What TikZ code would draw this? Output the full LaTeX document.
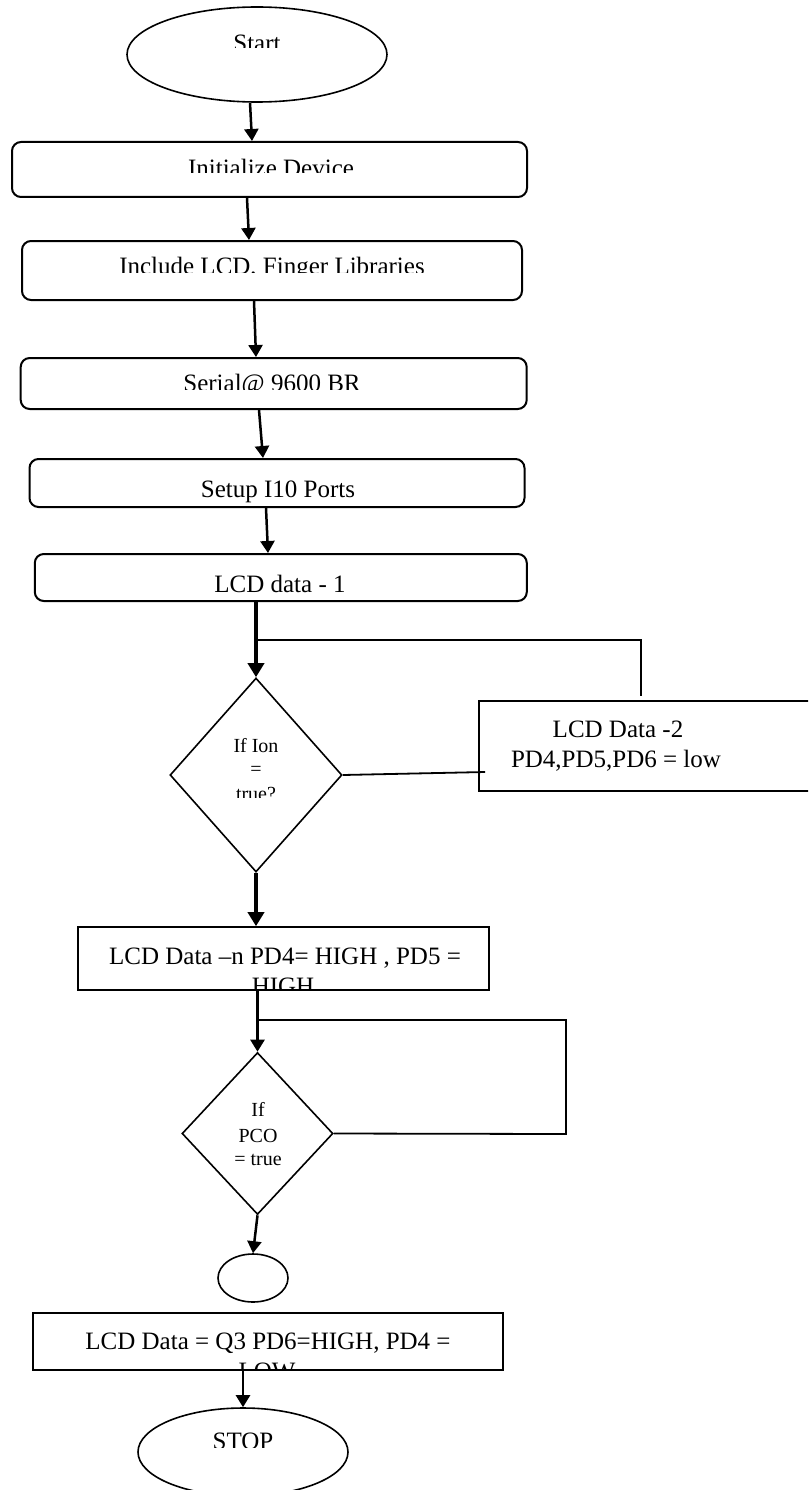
\documentclass[tikz,border=0pt]{standalone}
\usepackage{fontspec}
\setmainfont{Liberation Serif}
\usetikzlibrary{shapes.geometric,arrows.meta,calc}

\tikzset{
  procbox/.style={draw,line width=2pt,rounded corners=9pt,inner sep=0pt},
  databox/.style={draw,line width=1.6pt,inner sep=0pt},
  term/.style={draw,ellipse,line width=1.6pt,inner sep=0pt},
  decision/.style={draw,diamond,line width=1.6pt,inner sep=0pt},
  lbl/.style={anchor=base,inner sep=0pt,font=\fontsize{25}{30}\selectfont},
  smalllbl/.style={anchor=base,inner sep=0pt,font=\fontsize{20}{24}\selectfont},
  arr/.style={line width=2.5pt,-{Triangle[length=12pt,width=14pt]}},
  thickarr/.style={line width=3.5pt,-{Triangle[length=14pt,width=16pt]}},
  loopline/.style={line width=1.8pt}
}
% label whose lower part is cut away above height #5
\newcommand{\cutlabel}[6]{%
  \begin{scope}
    \clip (0,#5) rectangle (808,0);
    \node[#1] (#2) at (#3,#4) {#6};
  \end{scope}}

\begin{document}
\begin{tikzpicture}[x=1pt,y=-1pt]
  \clip (0,0) rectangle (808,1490);
  \fill[white] (0,0) rectangle (808,1490);

  % shapes
  \node[term,minimum width=260pt,minimum height=95pt] (start) at (257,54.5) {};
  \node[procbox,minimum width=515pt,minimum height=55pt] (init) at (269.5,169.5) {};
  \node[procbox,minimum width=500pt,minimum height=59pt] (incl) at (272,270.5) {};
  \node[procbox,minimum width=506pt,minimum height=51pt] (serial) at (273.7,383.5) {};
  \node[procbox,minimum width=495pt,minimum height=48pt] (setup) at (277,483) {};
  \node[procbox,minimum width=492pt,minimum height=47pt] (lcdone) at (280.8,577.5) {};
  \node[decision,minimum width=172pt,minimum height=194pt] (ion) at (256,775) {};
  \node[databox,minimum width=333pt,minimum height=90pt] (lcdtwo) at (645.5,746) {};
  \node[databox,minimum width=411pt,minimum height=63pt] (lcdn) at (283.5,958.5) {};
  \node[decision,minimum width=151pt,minimum height=162pt] (pco) at (257.5,1133.5) {};
  \node[term,minimum width=70pt,minimum height=48pt] (join) at (253,1278) {};
  \node[databox,minimum width=470pt,minimum height=57pt] (lcdq) at (268,1341.5) {};
  \node[term,minimum width=210pt,minimum height=88pt] (stop) at (243,1452) {};

  % texts
  \cutlabel{lbl}{tstart}{257}{51.5}{48}{Start}
  \cutlabel{lbl}{tinit}{271}{176.5}{173}{Initialize Device}
  \cutlabel{lbl}{tincl}{272}{274.5}{272}{Include LCD, Finger Libraries}
  \cutlabel{lbl}{tserial}{272}{391.5}{389}{Serial@ 9600 BR}
  \node[lbl] (tsetup) at (278,497) {Setup I10 Ports};
  \node[lbl] (tlcdone) at (280,592) {LCD data - 1};
  \node[smalllbl] (tion) at (256,752.5) {If Ion};
  \node[smalllbl] (teq) at (256,775.5) {=};
  \cutlabel{smalllbl}{ttrue}{256}{800}{797}{true?}
  \node[lbl] (tlcdtwo) at (618,737) {LCD Data -2};
  \node[lbl] (tpins) at (616,767) {PD4,PD5,PD6 = low};
  \node[lbl] (tlcdn) at (285,964) {LCD Data –n PD4= HIGH , PD5 =};
  \cutlabel{lbl}{thigh}{283}{994}{990}{HIGH}
  \node[smalllbl] (tif) at (258,1116.5) {If};
  \node[smalllbl] (tpco) at (258,1142.5) {PCO};
  \node[smalllbl] (ttrue2) at (258,1165.5) {= true};
  \node[lbl] (tlcdq) at (268,1349) {LCD Data = Q3 PD6=HIGH, PD4 =};
  \cutlabel{lbl}{tlow}{267}{1379}{1370}{LOW}
  \cutlabel{lbl}{tstop}{243}{1449.5}{1447}{STOP}

  % connectors
  \draw[arr] ($(start.south)+(-7,0)$) -- ($(init.north)+(-17.5,0)$);
  \draw[arr] ($(init.south)+(-22.5,0)$) -- ($(incl.north)+(-23,0)$);
  \draw[arr] ($(incl.south)+(-18,0)$) -- ($(serial.north)+(-17.7,0)$);
  \draw[arr] ($(serial.south)+(-14.7,0)$) -- ($(setup.north)+(-14,0)$);
  \draw[arr] ($(setup.south)+(-11,0)$) -- ($(lcdone.north)+(-12.8,0)$);
  \draw[thickarr] (ion.north |- lcdone.south) -- (ion.north);
  \draw[thickarr] (ion.south) -- (ion.south |- lcdn.north);
  \draw[arr] (pco.north |- lcdn.south) -- (pco.north);
  \draw[arr] (pco.south) -- (join.north);
  \draw[arr] (stop.north |- lcdq.south) -- (stop.north);

  % loop back lines
  \coordinate (forkone) at (256,640);
  \coordinate (forktwo) at (257.5,1020);
  \draw[loopline] (forkone) -| ($(lcdtwo.north)+(-4.5,-4)$);
  \draw[loopline] (ion.east) -- ($(lcdtwo.west)+(7,26)$);
  \draw[loopline] (forktwo) -| (566,1134) -- (pco.east);
\end{tikzpicture}
\end{document}
